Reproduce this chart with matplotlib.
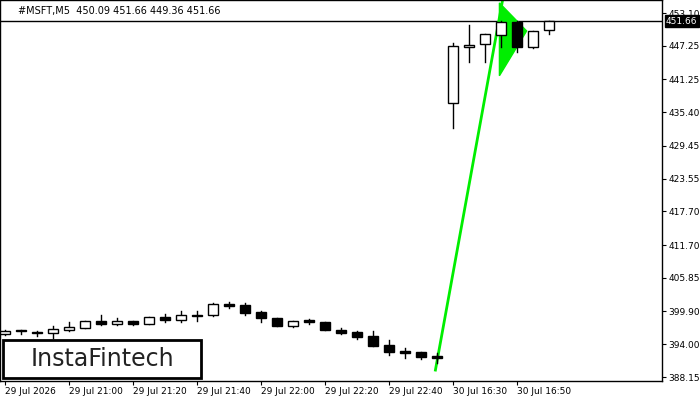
import matplotlib
matplotlib.use('Agg')
import matplotlib.pyplot as plt
from matplotlib.patches import Rectangle, Polygon

# ---- data ----
opens  = [395.9, 396.5, 396.2, 396.0, 396.6, 396.9, 398.1, 397.7, 398.1, 397.6,
          398.9, 398.4, 399.3, 399.3, 401.2, 401.0, 399.7, 398.6, 397.3, 398.3,
          398.0, 396.5, 396.2, 395.5, 393.9, 392.8, 392.6, 391.9,
          437.1, 447.1, 447.5, 449.2, 451.5, 447.0, 450.09]
highs  = [396.6, 396.6, 396.4, 397.3, 398.0, 398.2, 399.2, 398.7, 398.2, 398.8,
          399.4, 400.0, 399.9, 401.4, 401.6, 401.4, 399.9, 398.6, 398.2, 398.5,
          398.0, 396.9, 396.4, 396.3, 394.7, 393.3, 392.6, 392.5,
          447.7, 451.0, 449.4, 451.7, 451.7, 449.9, 451.66]
lows   = [395.7, 395.9, 395.4, 395.2, 396.4, 396.9, 397.5, 397.5, 397.5, 397.6,
          397.9, 397.9, 398.2, 399.1, 400.5, 399.2, 398.0, 397.3, 397.0, 397.6,
          396.6, 395.8, 395.0, 393.7, 392.1, 391.5, 391.4, 390.6,
          432.6, 444.4, 444.4, 447.0, 446.1, 446.8, 449.36]
closes = [396.4, 396.3, 396.0, 396.7, 397.1, 398.2, 397.7, 398.2, 397.6, 398.8,
          398.4, 399.3, 399.0, 401.2, 400.9, 399.6, 398.6, 397.3, 398.2, 397.9,
          396.6, 396.1, 395.3, 393.7, 392.7, 392.5, 391.8, 391.5,
          447.2, 447.4, 449.4, 451.5, 447.0, 449.9, 451.66]

last_price = 451.66
y_ticks = [388.15, 394.00, 399.90, 405.85, 411.70, 417.70, 423.55, 429.45,
           435.40, 441.25, 447.25, 453.10]
x_tick_idx = [0, 4, 8, 12, 16, 20, 24, 28, 32]
x_tick_labels = ['29 Jul 2026', '29 Jul 21:00', '29 Jul 21:20', '29 Jul 21:40',
                 '29 Jul 22:00', '29 Jul 22:20', '29 Jul 22:40',
                 '30 Jul 16:30', '30 Jul 16:50']
pole_x = [26.9, 31.2]
pole_y = [389.4, 457.0]
pennant_x = [30.9, 30.9, 32.6]
pennant_y = [454.9, 441.9, 449.9]

fig = plt.figure(figsize=(7, 4), dpi=100)
ax = fig.add_axes([0, 19 / 400, 662 / 700, 381 / 400])
ax.set_xlim(-0.31, 41.06)
ax.set_ylim(387.45, 455.42)

GREEN = '#00ee00'
ax.plot(pole_x, pole_y, color=GREEN, lw=2, zorder=2)
ax.add_patch(Polygon(list(zip(pennant_x, pennant_y)), closed=True,
                     facecolor=GREEN, edgecolor=GREEN, zorder=2))

w = 0.62
for i, (o, h, l, c) in enumerate(zip(opens, highs, lows, closes)):
    ax.plot([i, i], [l, h], color='black', lw=1, zorder=3)
    bottom, top = min(o, c), max(o, c)
    face = 'white' if c >= o else 'black'
    ax.add_patch(Rectangle((i - w / 2, bottom), w, max(top - bottom, 0.15),
                           facecolor=face, edgecolor='black', lw=1, zorder=4))

ax.axhline(last_price, color='black', lw=1, zorder=1)

ax.yaxis.tick_right()
ax.set_yticks(y_ticks)
ax.set_yticklabels([f'{v:.2f}' for v in y_ticks], fontsize=6.5)
ax.set_xticks(x_tick_idx)
ax.set_xticklabels(x_tick_labels, fontsize=6.5, ha='left')
ax.tick_params(axis='both', length=3, pad=1.5)
for s in ax.spines.values():
    s.set_linewidth(1)

ax.text(1.006, (last_price - 387.45) / (455.42 - 387.45), f'{last_price:.2f}',
        transform=ax.transAxes, fontsize=6.5, color='white', va='center', ha='left',
        bbox=dict(facecolor='black', edgecolor='black', pad=1), zorder=10, clip_on=False)

ax.text(18 / 662, 1 - 11 / 381,
        '#MSFT,M5  450.09 451.66 449.36 451.66', transform=ax.transAxes,
        fontsize=7, va='center', ha='left')

# logo box
fig.patches.append(Rectangle((3 / 700, 1 - 378 / 400), 198 / 700, 38 / 400,
                             transform=fig.transFigure, facecolor='white',
                             edgecolor='black', lw=2, zorder=20))
fig.text(102 / 700, 1 - 359 / 400, 'InstaFintech', fontsize=17, ha='center',
         va='center', color='#222222', zorder=21)

fig.savefig('out.png', dpi=100)
